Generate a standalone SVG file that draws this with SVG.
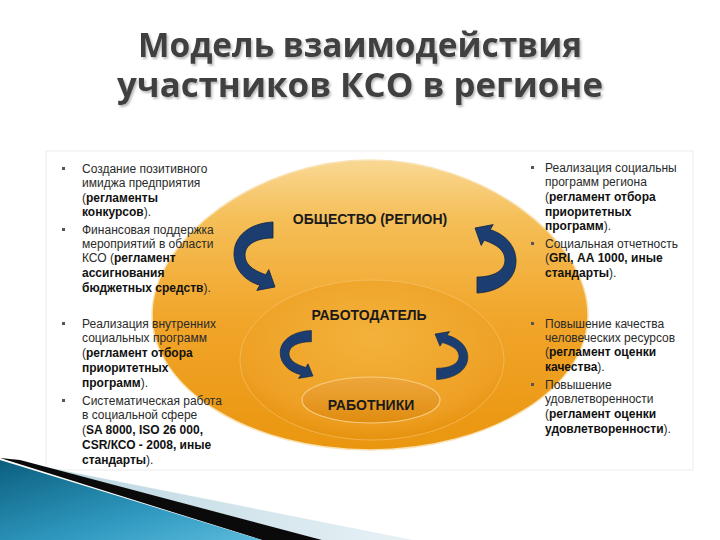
<svg xmlns="http://www.w3.org/2000/svg" xmlns:xlink="http://www.w3.org/1999/xlink" width="720" height="540" viewBox="0 0 720 540">
<defs>
<style>
.title{font-family:"Open Sans","Noto Sans","DejaVu Sans",sans-serif;font-weight:700;font-size:34px;fill:#3f3f3f;text-anchor:middle}
.t{font-family:"Liberation Sans",Arial,sans-serif;font-size:12px;fill:#2a2a2a}
.b{font-weight:700;fill:#111}
.lbl{font-family:"Liberation Sans",Arial,sans-serif;font-size:14px;font-weight:700;fill:#1a1a1a;text-anchor:middle}
.arrow{fill:#1c3d70;stroke:#0e2448;stroke-width:0.8}
.bul{fill:#555}
</style>
<filter id="shadow" x="-5%" y="-20%" width="110%" height="150%">
<feDropShadow dx="1.5" dy="2" stdDeviation="1.2" flood-color="#888" flood-opacity="0.6"/>
</filter>
<linearGradient id="gOuter" x1="0" y1="0" x2="0" y2="1">
<stop offset="0" stop-color="#f9d894"/>
<stop offset="0.2" stop-color="#f5bf58"/>
<stop offset="0.55" stop-color="#f1a52a"/>
<stop offset="1" stop-color="#ea960f"/>
</linearGradient>
<radialGradient id="gMid" cx="0.5" cy="0.35" r="0.65">
<stop offset="0" stop-color="#f3b23c"/>
<stop offset="0.8" stop-color="#eea024"/>
<stop offset="1" stop-color="#e6920e"/>
</radialGradient>
<linearGradient id="gIn" x1="0" y1="0" x2="0" y2="1">
<stop offset="0" stop-color="#eea73c"/>
<stop offset="1" stop-color="#e08c10"/>
</linearGradient>
<linearGradient id="gTeal" x1="0" y1="0" x2="1" y2="1">
<stop offset="0" stop-color="#0b5f7e"/>
<stop offset="0.6" stop-color="#2f98bf"/>
<stop offset="1" stop-color="#5bbbdc"/>
</linearGradient>
<linearGradient id="gPale" x1="0" y1="0" x2="1" y2="0">
<stop offset="0" stop-color="#b9d5e0"/>
<stop offset="1" stop-color="#e8f2f6"/>
</linearGradient>
<path id="arc" d="M 18,-35 C -4,-34 -21,-22 -21,-3 C -21,12 -10,24 4.8,28.2 L 1.8,33.4 L 20,30 L 13.8,12.6 L 10.8,17.8 C -3,13 -10,7 -10,-2 C -10,-13 2,-19 18,-19 Z"/>
</defs>

<rect width="720" height="540" fill="#ffffff"/>

<g id="title" filter="url(#shadow)">
<text class="title" x="360" y="57" textLength="444" lengthAdjust="spacingAndGlyphs">Модель взаимодействия</text>
<text class="title" x="360" y="97" textLength="486" lengthAdjust="spacingAndGlyphs">участников КСО в регионе</text>
</g>

<rect x="46" y="151" width="647" height="319" fill="#ffffff" stroke="#ececec" stroke-width="1"/>

<g id="society">
<path d="M 370,160 C 258,160 152,238 152,315 C 152,389 250,450 370,450 C 490,450 588,389 588,315 C 588,238 482,160 370,160 Z" fill="url(#gOuter)" stroke="#f9e2b4" stroke-width="1.5"/>
<text class="lbl" x="370" y="224">ОБЩЕСТВО (РЕГИОН)</text>
</g>

<g id="employer">
<ellipse cx="372" cy="360" rx="132" ry="80" fill="url(#gMid)" stroke="#f7c670" stroke-opacity="0.6" stroke-width="1"/>
<text class="lbl" x="369" y="320">РАБОТОДАТЕЛЬ</text>
</g>

<g id="workers">
<ellipse cx="371" cy="400" rx="69" ry="23" fill="url(#gIn)" stroke="#f8cc80" stroke-width="1.2"/>
<text class="lbl" x="371" y="410">РАБОТНИКИ</text>
</g>

<g id="connectors">
<use xlink:href="#arc" class="arrow" transform="translate(255,257)"/>
<use xlink:href="#arc" class="arrow" transform="translate(495,258) rotate(180)"/>
<use xlink:href="#arc" class="arrow" transform="translate(297,355) scale(0.8,0.7)"/>
<use xlink:href="#arc" class="arrow" transform="translate(451,355) rotate(180) scale(0.8,0.7)"/>
</g>

<g id="text-left-top" class="t">
<rect class="bul" x="62" y="167" width="3" height="3"/>
<text x="82" y="173">Создание позитивного</text>
<text x="82" y="187">имиджа предприятия</text>
<text x="82" y="202">(<tspan class="b">регламенты</tspan></text>
<text x="82" y="216"><tspan class="b">конкурсов</tspan>).</text>
<rect class="bul" x="62" y="228" width="3" height="3"/>
<text x="82" y="234">Финансовая поддержка</text>
<text x="82" y="248">мероприятий в области</text>
<text x="82" y="262">КСО (<tspan class="b">регламент</tspan></text>
<text x="82" y="277"><tspan class="b">ассигнования</tspan></text>
<text x="82" y="292"><tspan class="b">бюджетных средств</tspan>).</text>
</g>

<g id="text-left-bottom" class="t">
<rect class="bul" x="62" y="322" width="3" height="3"/>
<text x="82" y="328">Реализация внутренних</text>
<text x="82" y="342">социальных программ</text>
<text x="82" y="357">(<tspan class="b">регламент отбора</tspan></text>
<text x="82" y="372"><tspan class="b">приоритетных</tspan></text>
<text x="82" y="387"><tspan class="b">программ</tspan>).</text>
<rect class="bul" x="62" y="399" width="3" height="3"/>
<text x="82" y="405">Систематическая работа</text>
<text x="82" y="419">в социальной сфере</text>
<text x="82" y="434">(<tspan class="b">SA 8000, ISO 26 000,</tspan></text>
<text x="82" y="449"><tspan class="b">CSR/КСО - 2008, иные</tspan></text>
<text x="82" y="464"><tspan class="b">стандарты</tspan>).</text>
</g>

<g id="text-right-top" class="t">
<rect class="bul" x="531" y="166" width="3" height="3"/>
<text x="545" y="172">Реализация социальны</text>
<text x="545" y="186">программ региона</text>
<text x="545" y="201">(<tspan class="b">регламент отбора</tspan></text>
<text x="545" y="216"><tspan class="b">приоритетных</tspan></text>
<text x="545" y="230"><tspan class="b">программ</tspan>).</text>
<rect class="bul" x="531" y="242" width="3" height="3"/>
<text x="545" y="248">Социальная отчетность</text>
<text x="545" y="262">(<tspan class="b">GRI, АА 1000, иные</tspan></text>
<text x="545" y="277"><tspan class="b">стандарты</tspan>).</text>
</g>

<g id="text-right-bottom" class="t">
<rect class="bul" x="531" y="322" width="3" height="3"/>
<text x="545" y="328">Повышение качества</text>
<text x="545" y="342">человеческих ресурсов</text>
<text x="545" y="356">(<tspan class="b">регламент оценки</tspan></text>
<text x="545" y="371"><tspan class="b">качества</tspan>).</text>
<rect class="bul" x="531" y="383" width="3" height="3"/>
<text x="545" y="389">Повышение</text>
<text x="545" y="403">удовлетворенности</text>
<text x="545" y="418">(<tspan class="b">регламент оценки</tspan></text>
<text x="545" y="433"><tspan class="b">удовлетворенности</tspan>).</text>
</g>

<g id="corner-decoration">
<polygon points="40,466 413,540 322,540" fill="url(#gPale)"/>
<polygon points="0,458 20,460 322,540 262,540" fill="#0a0a0a"/>
<polygon points="0,460 262,540 0,540" fill="url(#gTeal)"/>
</g>
</svg>
